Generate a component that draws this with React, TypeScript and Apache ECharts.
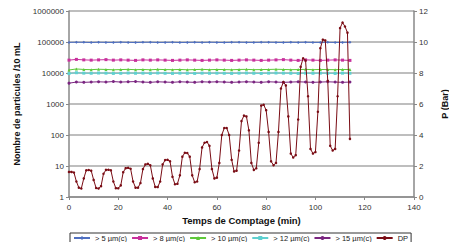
import React, { useEffect, useRef } from "react";
import * as echarts from "echarts";

// Particle counts sampled every 3 minutes (0..114 min)
const countMinutes = [0, 3, 6, 9, 12, 15, 18, 21, 24, 27, 30, 33, 36, 39, 42, 45, 48, 51, 54, 57, 60, 63, 66, 69, 72, 75, 78, 81, 84, 87, 90, 93, 96, 99, 102, 105, 108, 111, 114];
const gt5 = [97000, 98000, 97500, 96000, 98000, 97000, 96500, 98500, 97000, 96000, 97500, 98000, 96500, 97000, 98000, 96000, 97000, 97500, 96500, 98000, 97000, 96000, 97500, 98000, 97000, 96500, 97500, 98000, 97000, 96000, 97500, 97000, 98000, 96500, 97000, 97500, 96500, 97000, 97500];
const gt8 = [26000, 27500, 26500, 26000, 26500, 27000, 26000, 26500, 26000, 25500, 26500, 26000, 26500, 26000, 25500, 26000, 26500, 26000, 25500, 26000, 26500, 26000, 25500, 26000, 26500, 26000, 25500, 26000, 26500, 27000, 26000, 25500, 26500, 26000, 25500, 26000, 26500, 26000, 25500];
const gt10 = [12500, 13500, 13000, 12800, 13200, 13000, 12700, 12900, 13100, 12800, 13000, 12700, 13100, 12900, 12800, 13000, 12700, 12900, 13100, 12800, 13000, 12900, 12700, 13000, 13100, 12800, 12900, 13000, 13200, 13000, 12800, 12900, 13100, 12800, 13000, 12900, 12800, 13000, 12900];
const gt12 = [9600, 10200, 9900, 9800, 10000, 9900, 9700, 9800, 10000, 9800, 9900, 9700, 10000, 9800, 9700, 9900, 9800, 9700, 9900, 9800, 9900, 9800, 9700, 9900, 10000, 9800, 9700, 9900, 10000, 9900, 9800, 9700, 9900, 9800, 9900, 9800, 9700, 9900, 9800];
const gt15 = [4700, 5100, 5000, 5100, 5200, 5100, 5300, 5100, 5200, 5300, 5100, 5000, 5200, 5100, 5000, 5200, 5100, 5000, 5200, 5100, 5200, 5100, 5000, 5100, 5200, 5100, 5000, 5200, 5100, 5000, 5100, 5200, 5100, 5000, 5100, 5200, 5100, 5000, 5100];

// Differential pressure (bar), one reading per minute (0..114 min)
const dpBar = [
  1.62, 1.62, 1.58, 1.0, 0.6, 0.55, 1.2, 1.72, 1.74, 1.7,
  1.1, 0.58, 0.55, 0.7, 1.5, 1.75, 1.76, 1.72, 1.0, 0.57,
  0.56, 0.75, 1.6, 1.86, 1.88, 1.82, 1.0, 0.6, 0.6, 0.9,
  1.8, 2.1, 2.14, 2.05, 1.2, 0.65, 0.64, 1.0, 2.1, 2.38,
  2.4, 2.3, 1.3, 0.82, 0.85, 1.4, 2.6, 2.85, 2.84, 2.6,
  1.4, 0.95, 1.0, 1.8, 3.2, 3.5, 3.55, 3.3, 1.8, 1.2,
  1.25, 2.2, 4.0, 4.45, 4.45, 4.0, 2.4, 1.65, 1.7, 3.0,
  4.9, 5.25, 5.2, 4.3, 2.2, 1.75, 1.85, 3.5, 5.9, 5.95,
  5.6, 4.2, 2.3, 2.05, 2.2, 4.2, 7.0, 7.42, 7.2, 5.2,
  2.8, 2.55, 2.7, 5.0, 8.4, 8.95, 8.8, 6.5, 3.1, 2.8,
  2.9, 5.5, 9.6, 10.15, 10.1, 7.5, 3.3, 3.0, 3.1, 6.5,
  10.9, 11.25, 11.0, 10.6, 3.75,
];

const seriesNames = ["> 5 µm(c)", "> 8 µm(c)", "> 10 µm(c)", "> 12 µm(c)", "> 15 µm(c)", "DP"];
const seriesColors = ["#4f6fc0", "#c8309c", "#5ec83a", "#5fd0d0", "#7a2580", "#7a0c14"];

const FONT = "Liberation Sans";

export default function App() {
  const ref = useRef<HTMLDivElement>(null);
  useEffect(() => {
    if (!ref.current) return;
    const chart = echarts.init(ref.current, null, { renderer: "svg" });
    const countSets = [gt5, gt8, gt10, gt12, gt15];
    const symbols = ["diamond", "rect", "triangle", "rect", "circle"];
    const countSeries = countSets.map((vals, i) => ({
      name: seriesNames[i],
      type: "line",
      yAxisIndex: 0,
      data: vals.map((v, j) => [countMinutes[j], v]),
      symbol: symbols[i],
      symbolSize: 3,
      showSymbol: true,
      lineStyle: { color: seriesColors[i], width: 1 },
      itemStyle: { color: seriesColors[i] },
      z: 3,
    }));
    const dpSeries = {
      name: seriesNames[5],
      type: "line",
      yAxisIndex: 1,
      data: dpBar.map((v, j) => [j, v]),
      symbol: "circle",
      symbolSize: 2.5,
      lineStyle: { color: seriesColors[5], width: 1 },
      itemStyle: { color: seriesColors[5] },
      z: 4,
    };
    chart.setOption({
      animation: false,
      textStyle: { fontFamily: FONT },
      grid: { left: 69, right: 38, top: 11, bottom: 53, containLabel: false },
      legend: {
        bottom: 7,
        left: 70,
        width: 340,
        data: seriesNames,
        itemWidth: 16,
        itemHeight: 5,
        itemGap: 4,
        padding: [1, 3],
        borderColor: "#333",
        borderWidth: 1,
        textStyle: { fontSize: 7.5, color: "#222", fontFamily: FONT },
      },
      xAxis: {
        type: "value",
        min: 0,
        max: 140,
        interval: 20,
        name: "Temps de Comptage (min)",
        nameLocation: "middle",
        nameGap: 13,
        nameTextStyle: { fontSize: 9.5, fontWeight: "bold", color: "#111", fontFamily: FONT },
        axisLine: { show: true, lineStyle: { color: "#888", width: 1.5 } },
        axisTick: { show: true, length: 3, lineStyle: { color: "#888" } },
        axisLabel: { fontSize: 8, color: "#333", margin: 6 },
        splitLine: { show: false },
      },
      yAxis: [
        {
          type: "log",
          logBase: 10,
          min: 1,
          max: 1000000,
          name: "Nombre de particules /10 mL",
          nameLocation: "middle",
          nameRotate: 90,
          nameGap: 43,
          nameTextStyle: { fontSize: 9, fontWeight: "bold", color: "#111", fontFamily: FONT },
          axisLine: { show: true, lineStyle: { color: "#888", width: 1.5 } },
          axisTick: { show: true, length: 3, lineStyle: { color: "#888" } },
          axisLabel: { fontSize: 8, color: "#333", margin: 5, formatter: (v: number) => String(Math.round(v)) },
          splitLine: { show: true, lineStyle: { color: "#a8a8a8", width: 1.5 } },
        },
        {
          type: "value",
          min: 0,
          max: 12,
          interval: 2,
          position: "right",
          name: "P (Bar)",
          nameLocation: "middle",
          nameRotate: 90,
          nameGap: 26,
          nameTextStyle: { fontSize: 9, fontWeight: "bold", color: "#111", fontFamily: FONT },
          axisLine: { show: true, lineStyle: { color: "#888", width: 1.5 } },
          axisTick: { show: true, length: 3, lineStyle: { color: "#888" } },
          axisLabel: { fontSize: 8, color: "#333", margin: 5 },
          splitLine: { show: false },
        },
      ],
      series: [...countSeries, dpSeries],
    });
    return () => chart.dispose();
  }, []);
  return <div ref={ref} style={{ width: 457, height: 250, margin: -8 }} />;
}
